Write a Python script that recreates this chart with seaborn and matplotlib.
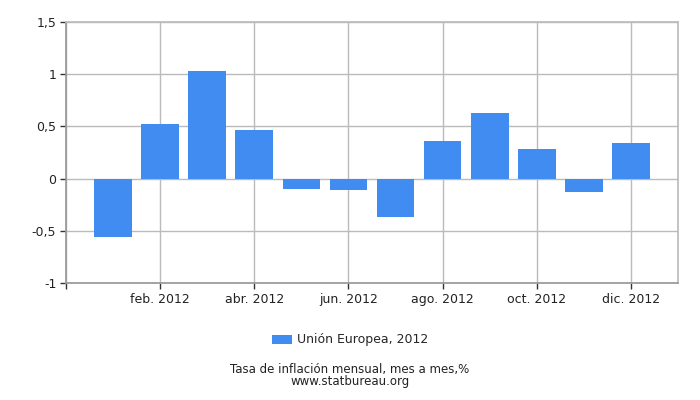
import matplotlib
matplotlib.use("Agg")
import matplotlib.pyplot as plt
import seaborn as sns
import pandas as pd
from matplotlib.patches import Patch

months = ["ene. 2012", "feb. 2012", "mar. 2012", "abr. 2012", "may. 2012", "jun. 2012",
          "jul. 2012", "ago. 2012", "sep. 2012", "oct. 2012", "nov. 2012", "dic. 2012"]
values = [-0.56, 0.52, 1.03, 0.47, -0.10, -0.11, -0.37, 0.36, 0.63, 0.28, -0.13, 0.34]
series_name = "Unión Europea, 2012"
yticks = [-1, -0.5, 0, 0.5, 1, 1.5]
ytick_labels = ["-1", "-0,5", "0", "0,5", "1", "1,5"]
xtick_idx = [1, 3, 5, 7, 9, 11]

sns.set_theme(style="white")
plt.rcParams['font.family'] = ['DejaVu Sans']

df = pd.DataFrame({"mes": months, "valor": values, "serie": series_name})

fig = plt.figure(figsize=(7, 4), dpi=100)
ax = fig.add_axes([66/700, 1 - 283/400, (678-66)/700, (283-22)/400])

sns.barplot(data=df, x="mes", y="valor", hue="serie", order=months, palette=["#418cf0"],
            width=0.8, saturation=1, ax=ax, legend=False, zorder=3, linewidth=0,
            edgecolor="none")

ax.set_xlim(-1, 12)
ax.set_ylim(-1, 1.5)
ax.set_yticks(yticks)
ax.set_yticklabels(ytick_labels, fontsize=9, color="#222222")
ax.set_xticks([-1] + xtick_idx)
ax.set_xticklabels([""] + [months[i] for i in xtick_idx], fontsize=9, color="#222222")
ax.set_xlabel("")
ax.set_ylabel("")
ax.grid(True, color="#bbbbbb", linewidth=1, zorder=0)
ax.set_axisbelow(True)
for side in ["top", "right"]:
    ax.spines[side].set_visible(True)
    ax.spines[side].set_color("#bbbbbb")
for side in ["left", "bottom"]:
    ax.spines[side].set_visible(True)
    ax.spines[side].set_color("#999999")
ax.tick_params(axis="both", which="major", length=4, width=1, color="#333333",
               left=True, bottom=True, pad=3)

handles = [Patch(facecolor="#418cf0", edgecolor="none", label=series_name)]
fig.legend(handles=handles, loc="center", bbox_to_anchor=(0.5, 1 - 340/400), frameon=False,
           fontsize=9, handlelength=1.6, handleheight=0.7, handletextpad=0.4)

fig.text(0.5, 1 - 369/400, "Tasa de inflación mensual, mes a mes,%", ha="center", va="center",
         fontsize=8.5, color="#222222")
fig.text(0.5, 1 - 382/400, "www.statbureau.org", ha="center", va="center",
         fontsize=8.5, color="#222222")

fig.savefig("out.png", dpi=100)
